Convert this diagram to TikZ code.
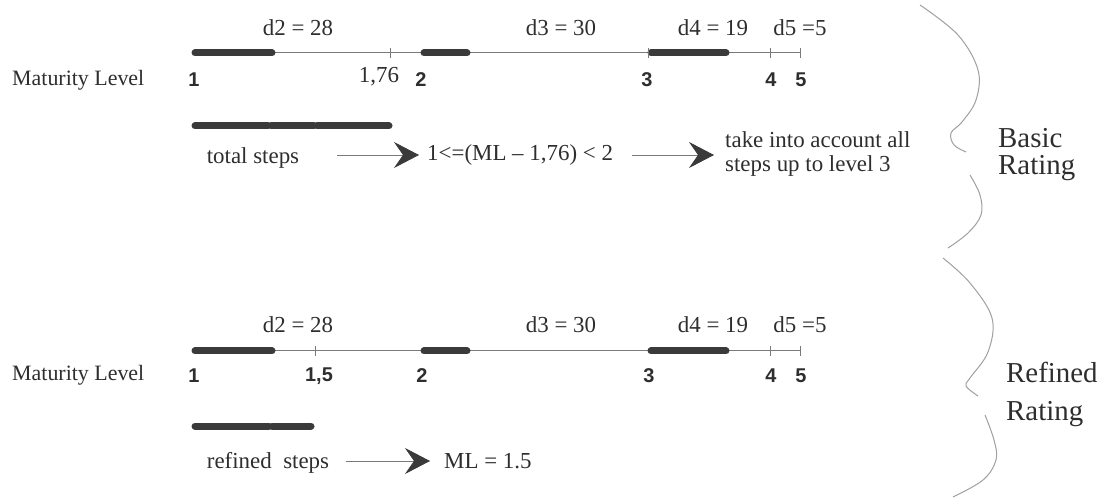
\documentclass[tikz,border=0pt]{standalone}
\usepackage{fontspec}
\setmainfont{Liberation Serif}
\newfontfamily\lvfont{Liberation Sans}
\usetikzlibrary{arrows.meta}
\definecolor{txtc}{HTML}{2E2E2E}
\definecolor{barc}{HTML}{3A3A3A}
\definecolor{linec}{HTML}{7A7A7A}
\definecolor{bracec}{HTML}{A0A0A0}
\begin{document}
\begin{tikzpicture}[x=1bp,y=-1bp,
  txt/.style={inner sep=0pt, font=\fontsize{23}{24}\selectfont, text=txtc},
  lv/.style={inner sep=0pt, font=\lvfont\bfseries\fontsize{20}{22}\selectfont, text=txtc},
  big/.style={inner sep=0pt, font=\fontsize{29}{28}\selectfont, text=txtc, align=left, anchor=base west},
  axisline/.style={line width=1bp, draw=linec},
  stepbar/.style={line width=7bp, line cap=round, draw=barc},
  tickmark/.style={line width=0.9bp, draw=linec},
  arr/.style={line width=0.9bp, draw=linec, -{Stealth[length=25bp,width=26bp,inset=9bp,color=barc]}},
  brace/.style={line width=1bp, draw=bracec}]
\useasboundingbox[fill=white] (0,0) rectangle (1104,498);

% ================= BASIC RATING =================
\coordinate (a1s) at (195,53);
\coordinate (a1e) at (800,53);
\draw[axisline] (a1s) -- (a1e);
\draw[stepbar] (195,53) -- (272,53);
\draw[stepbar] (424,53) -- (467,53);
\draw[stepbar] (651,53) -- (726,53);
\foreach \tx in {390,648,770,800} \draw[tickmark] (\tx,48) -- (\tx,58);
\node[txt] (d2a) at (298,28) {d2 = 28};
\node[txt] (d3a) at (561,28) {d3 = 30};
\node[txt] (d4a) at (713,28) {d4 = 19};
\node[txt] (d5a) at (800,28) {d5 =5};
\node[txt, anchor=west, font=\fontsize{22}{24}\selectfont] (mla) at (12,80) {Maturity Level};
\node[lv] (l1a) at (194,80) {1};
\node[txt] (l176) at (379,77) {1,76};
\node[lv] (l2a) at (421,80) {2};
\node[lv] (l3a) at (647,80) {3};
\node[lv] (l4a) at (771,80) {4};
\node[lv] (l5a) at (801,80) {5};
\draw[stepbar] (195,126) -- (268,126);
\draw[stepbar] (271,126) -- (314,126);
\draw[stepbar] (317,126) -- (389,126);
\node[txt] (tsteps) at (253,158) {total steps};
\node[txt, anchor=west] (cond) at (427,155) {1<=(ML -- 1,76) < 2};
\node[txt, anchor=west, align=left] (take) at (725,154) {take into account all\\steps up to level 3};
\coordinate (ar1s) at (337,155);
\coordinate (ar1e) at (419,155);
\coordinate (ar2s) at (632,155);
\coordinate (ar2e) at (714,155);
\draw[arr] (ar1s) -- (ar1e);
\draw[arr] (ar2s) -- (ar2e);
\draw[brace] plot[smooth, tension=0.6] coordinates {(920,5) (958,35) (978,70) (976,100) (962,122) (951,133) (954,145) (966,152)};
\draw[brace] plot[smooth, tension=0.6] coordinates {(970,175) (980,195) (981,215) (968,233) (948,248)};
\node[big] (basic) at (998,175) {Basic\\Rating};

% ================= REFINED RATING =================
\coordinate (a2s) at (195,351);
\coordinate (a2e) at (800,351);
\draw[axisline] (a2s) -- (a2e);
\draw[stepbar] (195,351) -- (272,351);
\draw[stepbar] (424,351) -- (467,351);
\draw[stepbar] (651,351) -- (726,351);
\foreach \tx in {315,770,800} \draw[tickmark] (\tx,346) -- (\tx,356);
\node[txt] (d2b) at (298,325) {d2 = 28};
\node[txt] (d3b) at (561,325) {d3 = 30};
\node[txt] (d4b) at (713,325) {d4 = 19};
\node[txt] (d5b) at (800,325) {d5 =5};
\node[txt, anchor=west, font=\fontsize{22}{24}\selectfont] (mlb) at (12,375) {Maturity Level};
\node[lv] (l1b) at (194,376) {1};
\node[lv] (l15) at (319,376) {1,5};
\node[lv] (l2b) at (422,376) {2};
\node[lv] (l3b) at (649,376) {3};
\node[lv] (l4b) at (771,376) {4};
\node[lv] (l5b) at (801,376) {5};
\draw[stepbar] (195,426) -- (269,426);
\draw[stepbar] (272,426) -- (311,426);
\node[txt] (rsteps) at (268,463) {refined\enspace steps};
\node[txt, anchor=west] (mlres) at (444,461) {ML = 1.5};
\coordinate (ar3s) at (346,461);
\coordinate (ar3e) at (430,461);
\draw[arr] (ar3s) -- (ar3e);
\draw[brace] plot[smooth, tension=0.6] coordinates {(943,258) (970,283) (992,318) (988,352) (970,378) (966,386) (978,396)};
\draw[brace] plot[smooth, tension=0.6] coordinates {(985,415) (994,440) (996,460) (983,480) (953,497)};
\node[big, font=\fontsize{29}{38}\selectfont] (refined) at (1006,420) {Refined\\Rating};
\end{tikzpicture}
\end{document}
